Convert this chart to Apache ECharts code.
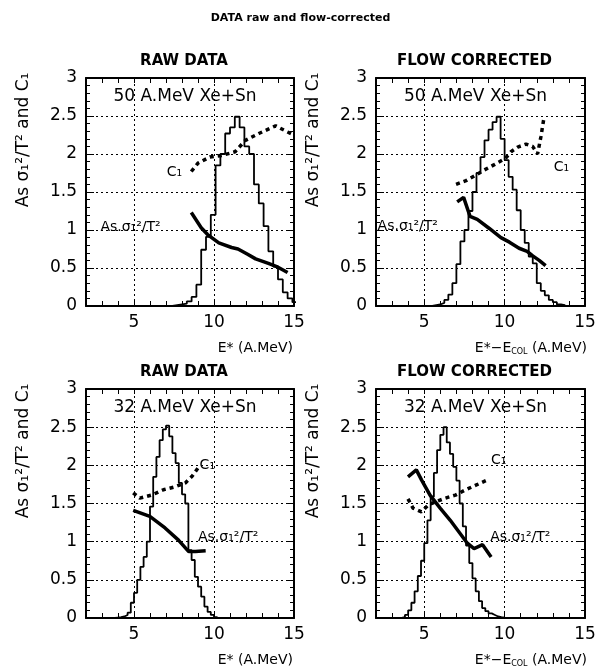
<!DOCTYPE html>
<html>
<head>
<meta charset="utf-8">
<title>DATA raw and flow-corrected</title>
<script src="https://cdn.jsdelivr.net/npm/echarts@6/dist/echarts.min.js"></script>
<style>
html, body { margin: 0; padding: 0; background: #fff; }
#chart { width: 601px; height: 667px; }
</style>
</head>
<body>
<div id="chart"></div>
<script>
// --- data ---
// x tick labels shown on every panel
const xTickLabels = [5, 10, 15];

// 50 A.MeV, raw data
const raw50HistX = [7.4, 7.7, 8.0, 8.3, 8.6, 8.9, 9.2, 9.5, 9.8, 10.1, 10.4, 10.7, 11.0, 11.3, 11.6, 11.9, 12.2, 12.5, 12.8, 13.1, 13.4, 13.7, 14.0, 14.3, 14.6, 14.9, 15.2];
const raw50HistY = [0.01, 0.02, 0.03, 0.06, 0.12, 0.28, 0.74, 0.91, 1.2, 1.85, 2.0, 2.27, 2.35, 2.49, 2.35, 2.1, 2.0, 1.6, 1.35, 1.05, 0.72, 0.52, 0.35, 0.18, 0.1, 0.05];
const raw50C1 = [[8.58, 1.77], [9.0, 1.88], [9.74, 1.96], [10.48, 1.98], [11.32, 2.03], [11.96, 2.18], [12.8, 2.27], [13.85, 2.37], [14.6, 2.29], [14.9, 2.26]];
const raw50As = [[8.58, 1.23], [9.2, 1.03], [9.6, 0.94], [10.3, 0.83], [11.1, 0.77], [11.5, 0.75], [12.1, 0.68], [12.6, 0.62], [13.4, 0.56], [14.0, 0.51], [14.6, 0.44]];

// 50 A.MeV, flow corrected
const flow50HistX = [5.5, 5.75, 6.0, 6.25, 6.5, 6.75, 7.0, 7.25, 7.5, 7.75, 8.0, 8.25, 8.5, 8.75, 9.0, 9.25, 9.5, 9.75, 10.0, 10.25, 10.5, 10.75, 11.0, 11.25, 11.5, 11.75, 12.0, 12.25, 12.5, 12.75, 13.0, 13.25, 13.5, 13.75];
const flow50HistY = [0.01, 0.02, 0.04, 0.08, 0.15, 0.3, 0.55, 0.85, 1.0, 1.25, 1.5, 1.75, 1.96, 2.18, 2.32, 2.42, 2.49, 2.2, 1.92, 1.7, 1.53, 1.26, 1.0, 0.83, 0.65, 0.56, 0.3, 0.2, 0.14, 0.08, 0.05, 0.02, 0.01];
const flow50C1 = [[6.98, 1.6], [7.6, 1.65], [8.11, 1.71], [8.74, 1.79], [9.36, 1.86], [10.04, 1.94], [10.4, 2.03], [10.81, 2.09], [11.33, 2.13], [11.74, 2.1], [12.05, 2.0], [12.26, 2.23], [12.45, 2.48]];
const flow50As = [[7.05, 1.37], [7.45, 1.43], [7.85, 1.18], [8.3, 1.14], [9.05, 1.02], [9.77, 0.9], [10.3, 0.84], [10.9, 0.76], [11.4, 0.72], [11.75, 0.66], [12.15, 0.6], [12.55, 0.53]];

// 32 A.MeV, raw data
const raw32HistX = [3.8, 4.0, 4.2, 4.4, 4.6, 4.8, 5.0, 5.2, 5.4, 5.6, 5.8, 6.0, 6.2, 6.4, 6.6, 6.8, 7.0, 7.2, 7.4, 7.6, 7.8, 8.0, 8.2, 8.4, 8.6, 8.8, 9.0, 9.2, 9.4, 9.6, 9.8, 10.0, 10.2];
const raw32HistY = [0.005, 0.01, 0.02, 0.04, 0.07, 0.2, 0.33, 0.5, 0.67, 0.8, 1.0, 1.46, 1.85, 2.11, 2.33, 2.47, 2.52, 2.38, 2.16, 2.03, 1.77, 1.62, 1.5, 0.89, 0.76, 0.54, 0.41, 0.28, 0.15, 0.08, 0.04, 0.01];
const raw32C1 = [[4.95, 1.64], [5.36, 1.57], [6.1, 1.61], [6.84, 1.68], [7.58, 1.72], [8.21, 1.77], [8.64, 1.86], [9.05, 1.98]];
const raw32As = [[4.95, 1.41], [5.99, 1.33], [6.94, 1.18], [7.78, 1.02], [8.42, 0.87], [8.84, 0.87], [9.48, 0.88]];

// 32 A.MeV, flow corrected
const flow32HistX = [3.6, 3.8, 4.0, 4.2, 4.4, 4.6, 4.8, 5.0, 5.2, 5.4, 5.6, 5.8, 6.0, 6.2, 6.4, 6.6, 6.8, 7.0, 7.2, 7.4, 7.6, 7.8, 8.0, 8.2, 8.4, 8.6, 8.8, 9.0, 9.2, 9.4, 9.6, 9.8, 10.0];
const flow32HistY = [0.01, 0.04, 0.1, 0.2, 0.35, 0.55, 0.75, 0.98, 1.28, 1.59, 1.9, 2.2, 2.4, 2.5, 2.3, 2.15, 1.98, 1.8, 1.5, 1.2, 0.95, 0.72, 0.52, 0.35, 0.22, 0.13, 0.09, 0.06, 0.04, 0.02, 0.01, 0.005];
const flow32C1 = [[3.99, 1.56], [4.3, 1.44], [4.83, 1.39], [5.25, 1.48], [5.68, 1.52], [6.31, 1.57], [6.94, 1.61], [7.58, 1.68], [8.21, 1.74], [9.05, 1.82]];
const flow32As = [[3.99, 1.85], [4.51, 1.94], [4.83, 1.81], [5.36, 1.61], [5.99, 1.44], [6.62, 1.28], [7.15, 1.13], [7.68, 0.98], [8.1, 0.91], [8.63, 0.96], [9.16, 0.8]];

// --- layout ---
const font = 'DejaVu Sans';
const grids = [
    { left: 86, top: 78, width: 208, height: 228 },
    { left: 376, top: 78, width: 209, height: 228 },
    { left: 86, top: 389, width: 208, height: 229 },
    { left: 376, top: 389, width: 209, height: 229 }
];

const panels = [
    { hx: raw50HistX, hy: raw50HistY, c1: raw50C1, as: raw50As, c1At: [7.05, 1.76], asAt: [2.9, 1.04], title: 'RAW DATA', beam: '50 A.MeV Xe+Sn', flow: false },
    { hx: flow50HistX, hy: flow50HistY, c1: flow50C1, as: flow50As, c1At: [13.05, 1.83], asAt: [2.1, 1.05], title: 'FLOW CORRECTED', beam: '50 A.MeV Xe+Sn', flow: true },
    { hx: raw32HistX, hy: raw32HistY, c1: raw32C1, as: raw32As, c1At: [9.1, 2.0], asAt: [9.0, 1.06], title: 'RAW DATA', beam: '32 A.MeV Xe+Sn', flow: false },
    { hx: flow32HistX, hy: flow32HistY, c1: flow32C1, as: flow32As, c1At: [9.15, 2.07], asAt: [9.1, 1.06], title: 'FLOW CORRECTED', beam: '32 A.MeV Xe+Sn', flow: true }
];

const frameLine = { show: true, onZero: false, lineStyle: { color: '#000', width: 2 } };

function makeX(g, pos) {
    return {
        gridIndex: g, type: 'value', position: pos,
        min: 2, max: 15, interval: 1,
        axisLine: frameLine,
        axisTick: { show: true, inside: true, length: 5, lineStyle: { color: '#000', width: 1 } },
        axisLabel: {
            show: pos === 'bottom', margin: 8, color: '#000', fontFamily: font, fontSize: 17,
            showMaxLabel: true,
            formatter: v => xTickLabels.includes(v) ? String(v) : ''
        },
        splitLine: { show: false }
    };
}

function makeY(g, pos) {
    return {
        gridIndex: g, type: 'value', position: pos,
        min: 0, max: 3, interval: 0.5,
        axisLine: frameLine,
        axisTick: { show: true, inside: true, length: 8, lineStyle: { color: '#000', width: 1 } },
        minorTick: { show: true, splitNumber: 5, length: 4, lineStyle: { color: '#000', width: 1 } },
        axisLabel: { show: pos === 'left', margin: 9, color: '#000', fontFamily: font, fontSize: 17 },
        splitLine: { show: pos === 'left', lineStyle: { color: '#000', width: 1, type: [2, 3] } }
    };
}

function histData(edges, counts) {
    const d = [[edges[0], 0]];
    counts.forEach((c, i) => d.push([edges[i], c]));
    d.push([edges[edges.length - 1], 0]);
    return d;
}

function note(at, text) {
    return {
        symbol: 'circle', symbolSize: 0, silent: true,
        label: { show: true, position: 'right', distance: 0, color: '#000', fontFamily: font, fontSize: 14, formatter: text },
        data: [{ coord: at }]
    };
}

const xAxes = [], yAxes = [], series = [];
panels.forEach((p, i) => {
    xAxes.push(makeX(i, 'bottom'), makeX(i, 'top'));
    yAxes.push(makeY(i, 'left'), makeY(i, 'right'));
    const ax = { xAxisIndex: 2 * i, yAxisIndex: 2 * i };
    series.push({
        ...ax, type: 'line', step: 'end', symbol: 'none',
        data: histData(p.hx, p.hy),
        lineStyle: { color: '#000', width: 1.8 },
        markLine: {
            silent: true, symbol: 'none', label: { show: false },
            lineStyle: { color: '#000', width: 1, type: [2, 3] },
            data: [{ xAxis: 5 }, { xAxis: 10 }]
        }
    });
    series.push({
        ...ax, type: 'line', symbol: 'none', data: p.c1,
        lineStyle: { color: '#000', width: 3.5, type: [4, 4] },
        markPoint: note(p.c1At, 'C₁')
    });
    series.push({
        ...ax, type: 'line', symbol: 'none', data: p.as,
        lineStyle: { color: '#000', width: 3.5 },
        markPoint: note(p.asAt, 'As.σ₁²/T²')
    });
});

// titles and axis names
const graphic = [];
const txt = (x, y, text, size, extra, weight) => Object.assign({
    type: 'text', x: x, y: y, silent: true,
    style: { text: text, fill: '#000', font: (weight || 'normal') + ' ' + size + 'px "' + font + '"', textAlign: 'center', textVerticalAlign: 'middle' }
}, extra || {});

grids.forEach((g, i) => {
    const p = panels[i];
    const cx = g.left + g.width / 2;
    graphic.push(txt(cx - 6, g.top - 17, p.title, 15, null, 'bold'));
    graphic.push(txt(cx - 5, g.top + 19, p.beam, 17));
    graphic.push(txt(g.left - 62, g.top + 62, 'As σ₁²/T² and C₁', 17, { rotation: Math.PI / 2 }));
    const name = p.flow
        ? { type: 'text', x: g.left + g.width + 2, y: g.top + g.height + 42, silent: true,
            style: { text: '{n|E*−E}{s|COL}{n| (A.MeV)}', fill: '#000', textAlign: 'right', textVerticalAlign: 'middle',
                rich: { n: { fontSize: 14, fontFamily: font, lineHeight: 16 }, s: { fontSize: 8, fontFamily: font, lineHeight: 16, verticalAlign: 'bottom' } } } }
        : txt(g.left + g.width - 1, g.top + g.height + 42, 'E* (A.MeV)', 14, {});
    if (!p.flow) name.style.textAlign = 'right';
    graphic.push(name);
});

const chart = echarts.init(document.getElementById('chart'), null, { renderer: 'canvas' });
chart.setOption({
    animation: false,
    backgroundColor: '#fff',
    title: {
        text: 'DATA raw and flow-corrected', left: 'center', top: 8,
        textStyle: { fontSize: 11, fontWeight: 'bold', fontFamily: font, color: '#000' }
    },
    grid: grids.map(g => Object.assign({ containLabel: false }, g)),
    xAxis: xAxes,
    yAxis: yAxes,
    series: series,
    graphic: graphic
});
</script>
</body>
</html>
